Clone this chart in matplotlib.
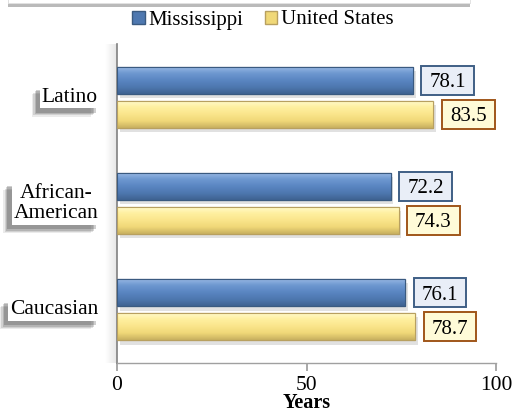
import matplotlib
matplotlib.use("Agg")
import matplotlib.pyplot as plt
import numpy as np
from matplotlib import patheffects as pe
from matplotlib.patches import Rectangle, Patch
from matplotlib.transforms import IdentityTransform
from matplotlib import font_manager as fm

categories = ["Latino", "African-\nAmerican", "Caucasian"]
mississippi = [78.1, 72.2, 76.1]
united_states = [83.5, 74.3, 78.7]
series_names = ["Mississippi", "United States"]
xticks = [0, 50, 100]

names = {f.name for f in fm.fontManager.ttflist}
serif = "Liberation Serif" if "Liberation Serif" in names else "DejaVu Serif"
plt.rcParams['font.family'] = [serif, 'DejaVu Serif']

W, H = 513, 413
DPI = 100
fig = plt.figure(figsize=(W/DPI, H/DPI), dpi=DPI)

# soft shadow band left of the value axis
sh = fig.add_axes([105/W, 1-363/H, 12/W, (363-44)/H])
sh.imshow(np.linspace(1.0, 0.9, 32)[None, :], cmap="gray", vmin=0, vmax=1, aspect="auto", extent=[0, 1, 0, 1])
sh.axis("off")

ax = fig.add_axes([117/W, 1-363/H, (496-117)/W, (363-44)/H])
ax.patch.set_alpha(0)

y = np.arange(len(categories))
off = 0.16
bh = 0.255

blue_grad = ["#9dbce6", "#6e98d0", "#5a86c2", "#4e78b0", "#3f6391"]
yel_grad = ["#fffbd0", "#fff0a0", "#fae58c", "#f0d878", "#c8b060"]

def grad_img(cols):
    from matplotlib.colors import to_rgb
    arr = np.array([to_rgb(c) for c in cols])
    n = 64
    t = np.linspace(0, 1, n)
    xs = np.linspace(0, 1, len(cols))
    img = np.stack([np.interp(t, xs, arr[:, k]) for k in range(3)], axis=1)
    return img[:, None, :]

b1 = ax.barh(y - off, mississippi, height=bh, color="#5a86c2", edgecolor="#3a5a80", linewidth=0.8, zorder=2)
b2 = ax.barh(y + off, united_states, height=bh, color="#fae58c", edgecolor="#b8a060", linewidth=0.8, zorder=2)

for bars, cols in ((b1, blue_grad), (b2, yel_grad)):
    for p in bars:
        p.set_path_effects([pe.withSimplePatchShadow(offset=(2, -3), shadow_rgbFace="#aaaaaa", alpha=0.35), pe.Normal()])
        x0, y0 = p.get_x(), p.get_y()
        w, h = p.get_width(), p.get_height()
        im = ax.imshow(grad_img(cols), extent=[x0, x0 + w, y0 + h, y0], aspect='auto', zorder=2.5, interpolation='bilinear')
        im.set_clip_path(p)
        edge = Rectangle((x0, y0), w, h, fill=False, edgecolor=p.get_edgecolor(), linewidth=0.8, zorder=3)
        ax.add_patch(edge)

ax.set_xlim(0, 100)
ax.set_ylim(2.5, -0.5)
ax.set_xticks(xticks)
ax.set_xticklabels([str(v) for v in xticks], fontsize=15.5)
ax.set_yticks([])
ax.tick_params(axis='x', direction='out', length=6, width=1.2, color="#999999", pad=3)
for s in ["top", "right"]:
    ax.spines[s].set_visible(False)
ax.spines["left"].set_color("#808080")
ax.spines["left"].set_linewidth(1.2)
ax.spines["bottom"].set_color("#a0a0a0")
ax.spines["bottom"].set_linewidth(1.0)

# value labels
FS = 15
labels = []
for vals, sgn, fc, ec in ((mississippi, -1, "#e9eef7", "#3f5f85"), (united_states, 1, "#fffbd8", "#a0561a")):
    for i, v in enumerate(vals):
        t = ax.annotate(f"{v:.1f}", (v, i + sgn * off), xytext=(16.5 * 72 / DPI, -0.33 * FS),
                        textcoords="offset points", va="baseline", ha="left", fontsize=FS, zorder=6)
        labels.append((t, v, i + sgn * off, fc, ec))

# category labels with soft shadow
shadow = [pe.withSimplePatchShadow(offset=(-o, -o), shadow_rgbFace="#404040", alpha=a)
          for o, a in ((6, 0.10), (5, 0.15), (4, 0.2), (3, 0.25))]
for i, c in enumerate(categories):
    t = ax.text(-0.05, 1 - (i + 0.5) / 3, c, transform=ax.transAxes, ha="right", va="center",
                fontsize=15.5, multialignment="center", linespacing=1.12,
                bbox=dict(boxstyle="square,pad=0.08", fc="white", ec="none"))
    t.get_bbox_patch().set_path_effects(shadow + [pe.Normal()])

fig.text(307/W, 0.0, "Years", ha="center", va="bottom", fontsize=14.5, fontweight="bold")

# legend
handles = [Patch(facecolor="#4e78b0", edgecolor="#3a5a80"), Patch(facecolor="#f0d878", edgecolor="#b8a060")]
fig.legend(handles, series_names, loc="center", bbox_to_anchor=(263/W, 1-20/H), ncol=2, frameon=False,
           fontsize=15, handlelength=0.6, handleheight=0.6, handletextpad=0.2, columnspacing=1.0, borderaxespad=0)

# top cut-off shadowed box
top = Rectangle((8/W, 1-3/H), 462/W, 20/H, transform=fig.transFigure, fc="white", ec="#dddddd", lw=0.5, zorder=10)
top.set_path_effects([pe.withSimplePatchShadow(offset=(0, -3), shadow_rgbFace="#777777", alpha=0.5), pe.Normal()])
fig.add_artist(top)

# boxes behind value labels, sized from the rendered text
fig.canvas.draw()
r = fig.canvas.get_renderer()
for t, v, yy, fc, ec in labels:
    bb = t.get_window_extent(r)
    _, yc = ax.transData.transform((v, yy))
    box = Rectangle((bb.x0 - 8, yc - 14.5), bb.width + 16, 29, transform=IdentityTransform(),
                    fc=fc, ec=ec, lw=1.4, zorder=5, clip_on=False)
    ax.add_patch(box)

fig.savefig("out.png", dpi=DPI)
